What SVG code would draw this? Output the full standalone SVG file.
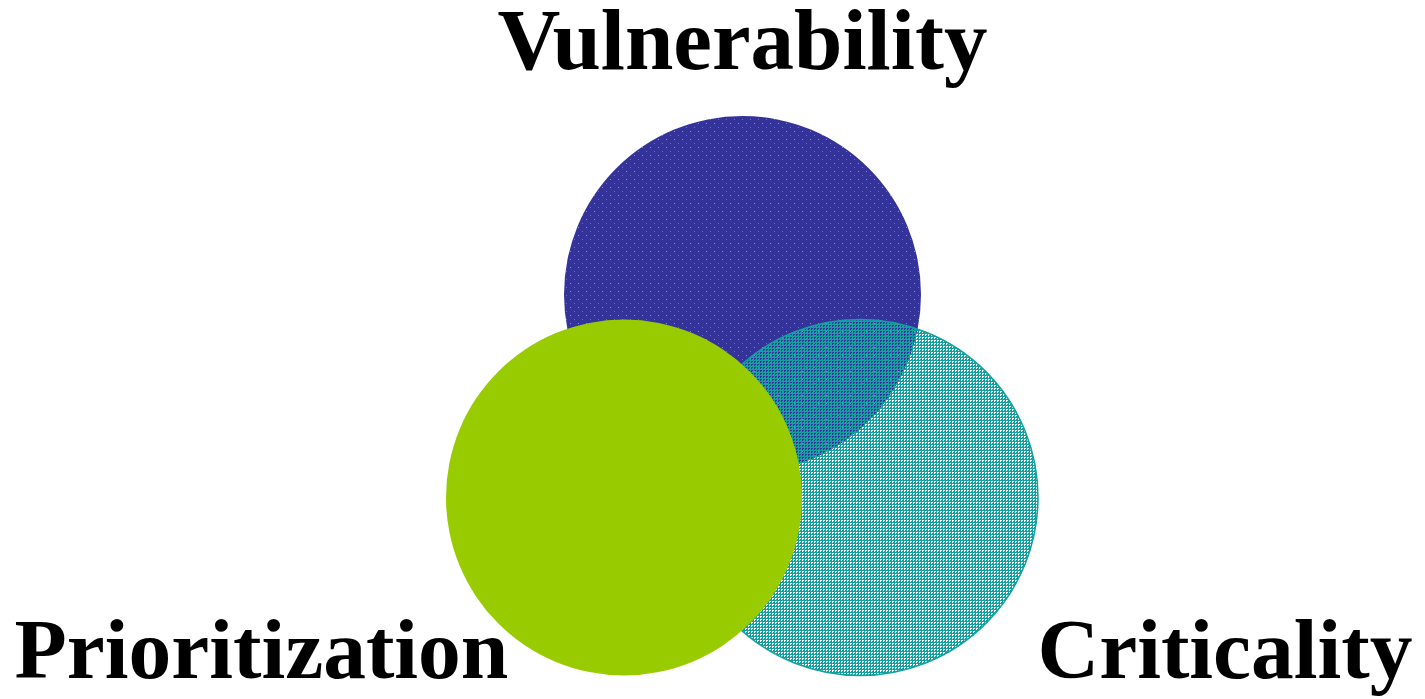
<svg xmlns="http://www.w3.org/2000/svg" width="1425" height="699" viewBox="0 0 1425 699">
<style>
.lbl{font-family:"Liberation Serif","Times New Roman",serif;font-weight:bold;font-size:85.5px;fill:#000}
</style>
<defs>
<pattern id="dots" width="8" height="8" patternUnits="userSpaceOnUse">
<rect width="8" height="8" fill="#333399"/>
<rect x="2" y="3" width="1" height="1" fill="#8a8ad0"/>
<rect x="6" y="7" width="1" height="1" fill="#6c6cc0"/>
</pattern>
<pattern id="tex" width="3" height="3" patternUnits="userSpaceOnUse">
<rect x="0" y="0" width="3" height="1" fill="#13a0a0"/>
<rect x="0" y="1" width="1" height="2" fill="#13a0a0"/>
<rect x="2" y="2" width="1" height="1" fill="#13a0a0"/>
</pattern>
</defs>
<rect width="1425" height="699" fill="#fff"/>
<g id="vulnerability-circle">
<circle cx="742.5" cy="294.5" r="178.5" fill="url(#dots)"/>
</g>
<g id="criticality-circle">
<circle cx="860" cy="497.5" r="178" fill="url(#tex)" stroke="#13a0a0" stroke-width="1.5"/>
</g>
<g id="prioritization-circle">
<circle cx="624" cy="497.5" r="178" fill="#99cc00"/>
</g>
<g id="connectors"></g>
<g id="labels">
<text id="label-vulnerability" class="lbl" x="742.5" y="69" text-anchor="middle" style="font-size:87px">Vulnerability</text>
<text id="label-prioritization" class="lbl" x="261.5" y="678" text-anchor="middle">Prioritization</text>
<text id="label-criticality" class="lbl" x="1225" y="678" text-anchor="middle">Criticality</text>
</g>
</svg>
